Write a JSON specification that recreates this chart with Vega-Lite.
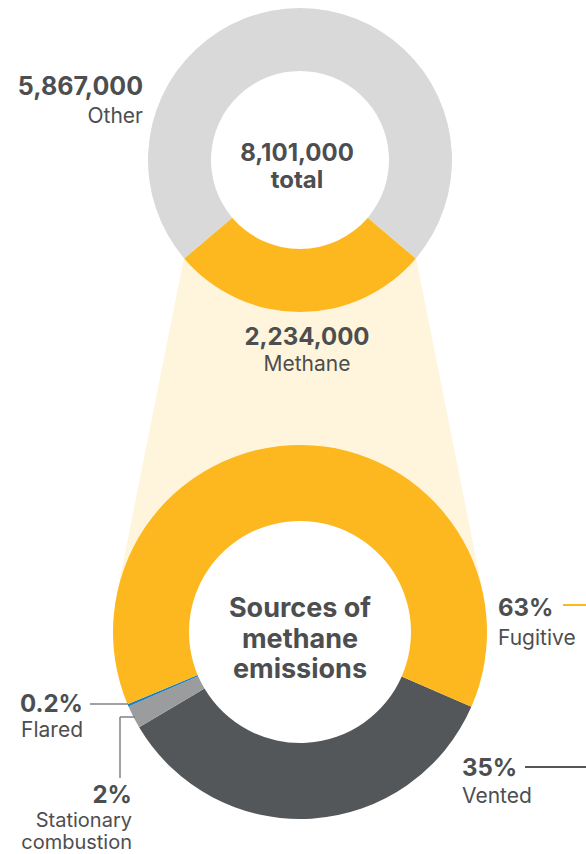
{
  "$schema": "https://vega.github.io/schema/vega-lite/v6.json",
  "width": 586,
  "height": 854,
  "autosize": {"type": "fit", "contains": "padding"},
  "padding": 0,
  "background": "white",
  "config": {"view": {"stroke": null}, "font": "Inter", "text": {"font": "Inter", "color": "#4D4E50"}},
  "datasets": {
    "total": [
      {"category": "Methane", "value": 2234000},
      {"category": "Other", "value": 5867000}
    ],
    "sources": [
      {"source": "Vented", "share": 0.35, "rank": 1},
      {"source": "Stationary combustion", "share": 0.02, "rank": 2},
      {"source": "Flared", "share": 0.002, "rank": 3},
      {"source": "Fugitive", "share": 0.63, "rank": 4}
    ]
  },
  "resolve": {"scale": {"theta": "independent", "color": "independent"}},
  "layer": [
    {
      "data": {"values": [{}]},
      "mark": {"type": "arc", "x": 300, "y": -323, "theta": 2.9445, "theta2": 3.3387, "innerRadius": 585, "outerRadius": 936, "fill": "#FEF5DC"},
      "encoding": {}
    },
    {
      "data": {"name": "total"},
      "mark": {"type": "arc", "x": 300, "y": 160, "innerRadius": 89, "outerRadius": 152},
      "encoding": {
        "theta": {"field": "value", "type": "quantitative", "stack": true, "scale": {"range": [2.2752, 8.5584]}},
        "color": {"field": "category", "type": "nominal", "scale": {"domain": ["Methane", "Other"], "range": ["#FDB71F", "#D9D9D9"]}, "legend": null},
        "order": {"field": "category"}
      }
    },
    {
      "data": {"values": [{}]},
      "mark": {"type": "arc", "x": 300, "y": 632, "theta": 0, "theta2": 6.2832, "innerRadius": 0, "outerRadius": 112, "fill": "white"},
      "encoding": {}
    },
    {
      "data": {"name": "sources"},
      "mark": {"type": "arc", "x": 300, "y": 632, "innerRadius": 111, "outerRadius": 187},
      "encoding": {
        "theta": {"field": "share", "type": "quantitative", "stack": true, "scale": {"range": [1.9827, 8.2659]}},
        "color": {"field": "source", "type": "nominal", "scale": {"domain": ["Vented", "Stationary combustion", "Flared", "Fugitive"], "range": ["#54575A", "#9B9C9E", "#1B7FC4", "#FDB71F"]}, "legend": null},
        "order": {"field": "rank", "type": "quantitative"}
      }
    },
    {
      "data": {"name": "total"},
      "transform": [{"filter": "datum.category === 'Other'"}],
      "layer": [
        {"mark": {"type": "text", "x": 143, "y": 95, "align": "right", "baseline": "alphabetic", "fontSize": 25, "fontWeight": "bold"},
         "encoding": {"text": {"field": "value", "type": "quantitative", "format": ","}}},
        {"mark": {"type": "text", "x": 143, "y": 123, "align": "right", "baseline": "alphabetic", "fontSize": 21},
         "encoding": {"text": {"field": "category", "type": "nominal"}}}
      ]
    },
    {
      "data": {"name": "total"},
      "transform": [{"filter": "datum.category === 'Methane'"}],
      "layer": [
        {"mark": {"type": "text", "x": 307, "y": 345, "align": "center", "baseline": "alphabetic", "fontSize": 24, "fontWeight": "bold"},
         "encoding": {"text": {"field": "value", "type": "quantitative", "format": ","}}},
        {"mark": {"type": "text", "x": 307, "y": 371, "align": "center", "baseline": "alphabetic", "fontSize": 21},
         "encoding": {"text": {"field": "category", "type": "nominal"}}}
      ]
    },
    {
      "data": {"values": [{}]},
      "layer": [
        {"mark": {"type": "text", "x": 297, "y": 161, "align": "center", "baseline": "alphabetic", "fontSize": 24, "fontWeight": "bold", "lineHeight": 26.5, "text": ["8,101,000", "total"]},
         "encoding": {}},
        {"mark": {"type": "text", "x": 300, "y": 617, "align": "center", "baseline": "alphabetic", "fontSize": 27, "fontWeight": "bold", "lineHeight": 30.5, "text": ["Sources of", "methane", "emissions"]},
         "encoding": {}}
      ]
    },
    {
      "data": {"name": "sources"},
      "transform": [{"filter": "datum.source === 'Fugitive'"}],
      "layer": [
        {"mark": {"type": "text", "x": 498, "y": 616, "align": "left", "baseline": "alphabetic", "fontSize": 24, "fontWeight": "bold"},
         "encoding": {"text": {"field": "share", "type": "quantitative", "format": ".0%"}}},
        {"mark": {"type": "text", "x": 498, "y": 645, "align": "left", "baseline": "alphabetic", "fontSize": 21},
         "encoding": {"text": {"field": "source", "type": "nominal"}}},
        {"mark": {"type": "rule", "color": "#FDB71F", "strokeWidth": 2},
         "encoding": {"x": {"value": 563}, "x2": {"value": 586}, "y": {"value": 605}}}
      ]
    },
    {
      "data": {"name": "sources"},
      "transform": [{"filter": "datum.source === 'Vented'"}],
      "layer": [
        {"mark": {"type": "text", "x": 462, "y": 776, "align": "left", "baseline": "alphabetic", "fontSize": 24, "fontWeight": "bold"},
         "encoding": {"text": {"field": "share", "type": "quantitative", "format": ".0%"}}},
        {"mark": {"type": "text", "x": 462, "y": 803, "align": "left", "baseline": "alphabetic", "fontSize": 21},
         "encoding": {"text": {"field": "source", "type": "nominal"}}},
        {"mark": {"type": "rule", "color": "#54575A", "strokeWidth": 2},
         "encoding": {"x": {"value": 525}, "x2": {"value": 586}, "y": {"value": 767}}}
      ]
    },
    {
      "data": {"name": "sources"},
      "transform": [{"filter": "datum.source === 'Flared'"}],
      "layer": [
        {"mark": {"type": "text", "x": 83, "y": 712, "align": "right", "baseline": "alphabetic", "fontSize": 24, "fontWeight": "bold"},
         "encoding": {"text": {"field": "share", "type": "quantitative", "format": ".1%"}}},
        {"mark": {"type": "text", "x": 83, "y": 737, "align": "right", "baseline": "alphabetic", "fontSize": 21},
         "encoding": {"text": {"field": "source", "type": "nominal"}}},
        {"mark": {"type": "rule", "color": "#808285", "strokeWidth": 1.5},
         "encoding": {"x": {"value": 90}, "x2": {"value": 128}, "y": {"value": 704}}}
      ]
    },
    {
      "data": {"name": "sources"},
      "transform": [{"filter": "datum.source === 'Stationary combustion'"}],
      "layer": [
        {"mark": {"type": "text", "x": 132, "y": 803, "align": "right", "baseline": "alphabetic", "fontSize": 24, "fontWeight": "bold"},
         "encoding": {"text": {"field": "share", "type": "quantitative", "format": ".0%"}}},
        {"mark": {"type": "text", "x": 132, "y": 827, "align": "right", "baseline": "alphabetic", "fontSize": 20, "lineBreak": " ", "lineHeight": 22},
         "encoding": {"text": {"field": "source", "type": "nominal"}}},
        {"mark": {"type": "rule", "color": "#808285", "strokeWidth": 1.5},
         "encoding": {"x": {"value": 120}, "y": {"value": 717}, "y2": {"value": 778}}},
        {"mark": {"type": "rule", "color": "#808285", "strokeWidth": 1.5},
         "encoding": {"x": {"value": 120}, "x2": {"value": 135}, "y": {"value": 717}}}
      ]
    }
  ]
}
